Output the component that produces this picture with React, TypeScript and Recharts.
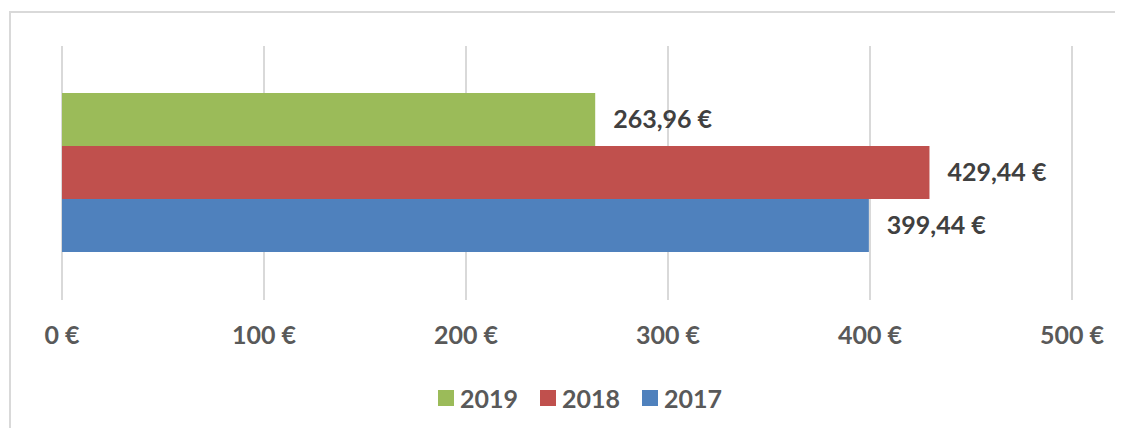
import React from "react";
import { BarChart, Bar, XAxis, YAxis, CartesianGrid, LabelList, Legend } from "recharts";

const categories = ["Total"];
const series2019 = [263.96];
const series2018 = [429.44];
const series2017 = [399.44];
const xTicks = [0, 100, 200, 300, 400, 500];
const seriesNames = ["2019", "2018", "2017"];
const seriesColors = ["#9BBB59", "#C0504D", "#4F81BD"];

const data = categories.map((c, i) => ({
  name: c,
  y2019: series2019[i],
  y2018: series2018[i],
  y2017: series2017[i],
}));

const FONT = "Lato, 'Open Sans', sans-serif";

const fmtEuro = (v: number) => `${v.toFixed(2).replace(".", ",")} €`;

const renderLegend = () => (
  <div style={{ display: "flex", justifyContent: "center", alignItems: "center", fontFamily: FONT, height: 30, paddingLeft: 26 }}>
    {seriesNames.map((n, i) => (
      <div key={n} style={{ display: "flex", alignItems: "center", marginRight: i < 2 ? 22 : 0 }}>
        <div style={{ width: 16, height: 16, background: seriesColors[i], marginRight: 6 }} />
        <span style={{ fontSize: 25, fontWeight: 700, color: "#595959", lineHeight: "30px" }}>{n}</span>
      </div>
    ))}
  </div>
);

export default function App() {
  const keys = ["y2019", "y2018", "y2017"];
  return (
    <div style={{ margin: -8, width: 1123, height: 436, position: "relative", overflow: "hidden", background: "#fff" }}>
      <div
        style={{
          position: "absolute",
          left: 9,
          top: 11,
          width: 1300,
          height: 600,
          border: "2px solid #d9d9d9",
          boxSizing: "border-box",
        }}
      />
      <div style={{ position: "absolute", left: 0, top: 0 }}>
        <BarChart
          width={1123}
          height={436}
          data={data}
          layout="vertical"
          margin={{ top: 46, right: 51, left: 62, bottom: 46 }}
          barCategoryGap={47}
          barGap={0}
        >
          <CartesianGrid horizontal={false} vertical stroke="#d9d9d9" strokeWidth={2} />
          <XAxis
            type="number"
            domain={[0, 500]}
            ticks={xTicks}
            axisLine={false}
            tickLine={false}
            interval={0}
            height={60}
            tickFormatter={(v: number) => `${v} €`}
            tick={{ fill: "#595959", fontSize: 25, fontWeight: 700, fontFamily: FONT, dy: 18 }}
          />
          <YAxis type="category" dataKey="name" hide />
          <Legend
            verticalAlign="bottom"
            content={renderLegend}
            wrapperStyle={{ bottom: 23 }}
          />
          {keys.map((k, i) => (
            <Bar key={k} dataKey={k} name={seriesNames[i]} fill={seriesColors[i]} isAnimationActive={false}>
              <LabelList
                dataKey={k}
                position="right"
                offset={18}
                formatter={(v: any) => fmtEuro(Number(v))}
                style={{ fill: "#404040", fontSize: 25, fontWeight: 700, fontFamily: FONT }}
              />
            </Bar>
          ))}
        </BarChart>
      </div>
    </div>
  );
}
